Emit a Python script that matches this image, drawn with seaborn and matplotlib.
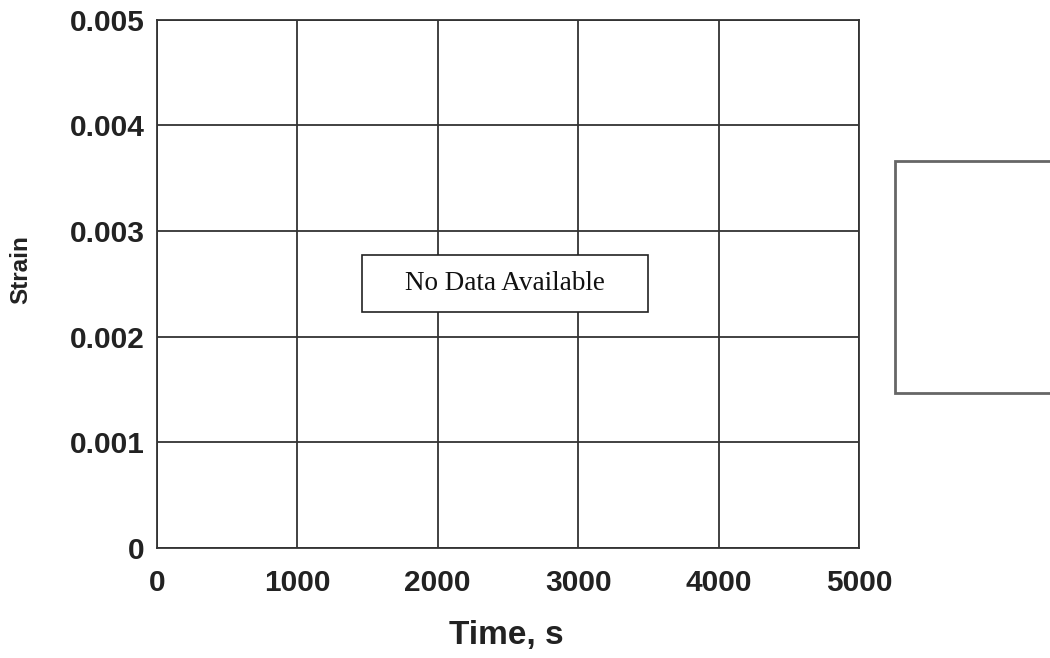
import matplotlib
matplotlib.use("Agg")
import matplotlib.pyplot as plt
import matplotlib.patches as patches
import pandas as pd
import seaborn as sns

# no series in this chart, only the empty frame
time_s = []
strain = []
x_ticks = [0, 1000, 2000, 3000, 4000, 5000]
y_ticks = [0, 0.001, 0.002, 0.003, 0.004, 0.005]
y_tick_labels = ["0", "0.001", "0.002", "0.003", "0.004", "0.005"]

sns.set_theme(style="whitegrid")
plt.rcParams["font.family"] = ["Liberation Sans", "DejaVu Sans"]

fig = plt.figure(figsize=(10.5, 6.58), dpi=100)
ax = fig.add_axes([0.1495, 0.167, 0.6685, 0.803])

df = pd.DataFrame({"Time": pd.Series(time_s, dtype=float), "Strain": pd.Series(strain, dtype=float)})
sns.lineplot(data=df, x="Time", y="Strain", ax=ax)

ax.set_xlim(x_ticks[0], x_ticks[-1])
ax.set_ylim(y_ticks[0], y_ticks[-1])
ax.set_xticks(x_ticks)
ax.set_xticklabels([str(t) for t in x_ticks])
ax.set_yticks(y_ticks)
ax.set_yticklabels(y_tick_labels)
ax.grid(True, color="#333333", linewidth=1.3)
for s in ax.spines.values():
    s.set_color("#333333")
    s.set_linewidth(1.3)
ax.tick_params(axis="both", length=0, labelsize=21.5, colors="#222222")
ax.tick_params(axis="x", pad=15)
ax.tick_params(axis="y", pad=9)
for lab in ax.get_xticklabels() + ax.get_yticklabels():
    lab.set_fontweight("bold")

ax.set_xlabel("Time, s", fontsize=24, fontweight="bold", color="#222222")
ax.set_ylabel("Strain", fontsize=17.5, fontweight="bold", color="#222222")
ax.xaxis.set_label_coords(0.498, -0.136)
ax.yaxis.set_label_coords(-0.178, 0.527)

ax.text(0.496, 0.5, "No Data Available", transform=ax.transAxes, ha="center", va="center",
        fontsize=19.5, family=["Liberation Serif", "DejaVu Serif"], color="#111111", zorder=5)
ax.add_patch(patches.Rectangle((0.496 - 0.2035, 0.5 - 0.054), 0.407, 0.108, transform=ax.transAxes,
                               facecolor="white", edgecolor="#222222", linewidth=1.2, zorder=4))

# empty legend frame on the right, clipped by the figure edge
fig.patches.append(patches.Rectangle((0.852, 0.403), 0.2, 0.353, transform=fig.transFigure,
                                     facecolor="white", edgecolor="#666666", linewidth=2))

fig.savefig("out.png", dpi=100, facecolor="white")
